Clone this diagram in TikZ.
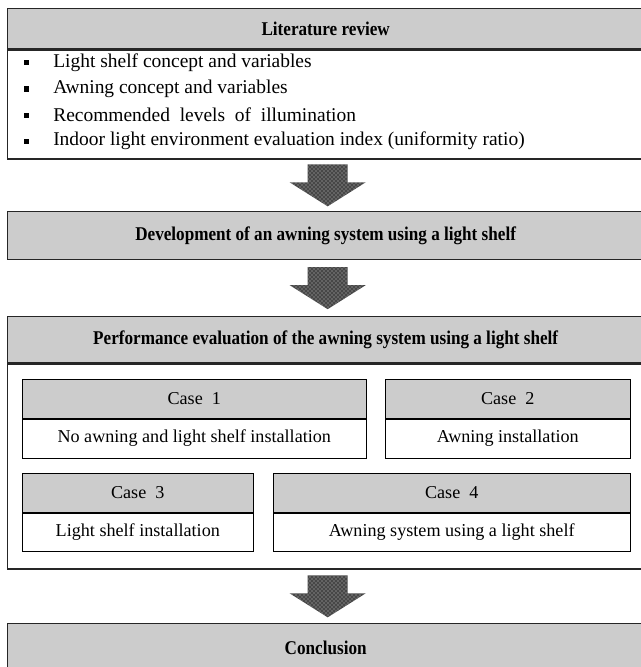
\documentclass[tikz,border=0pt]{standalone}
\usepackage{fontspec}
\setmainfont{Liberation Serif}
\newfontfamily\headfont[FakeStretch=0.88]{Liberation Serif}
\usetikzlibrary{positioning,calc,patterns}
\newlength\px
\setlength\px{0.75pt}
% block arrow between two boxes
\newcommand\flowarrow[2]{%
  \path ($(#1.south)!0.5!(#2.north)$) ++(2,0) coordinate (#1-#2);
  \fill[arrowfill] ($(#1-#2)+(-20,-21)$) -- ($(#1-#2)+(20,-21)$) -- ($(#1-#2)+(20,-3)$)
    -- ($(#1-#2)+(38,-3)$) -- ($(#1-#2)+(0,21)$) -- ($(#1-#2)+(-38,-3)$)
    -- ($(#1-#2)+(-20,-3)$) -- cycle;
  \fill[pattern=crosshatch dots, pattern color=gray!45] ($(#1-#2)+(-20,-21)$) -- ($(#1-#2)+(20,-21)$) -- ($(#1-#2)+(20,-3)$)
    -- ($(#1-#2)+(38,-3)$) -- ($(#1-#2)+(0,21)$) -- ($(#1-#2)+(-38,-3)$)
    -- ($(#1-#2)+(-20,-3)$) -- cycle;}
\begin{document}
\begin{tikzpicture}[
    x=\px, y=-\px,
    head/.style={rectangle, draw=black!85, line width=1pt, fill=gray!40, minimum width=636\px, inner sep=0pt, anchor=north west, font=\headfont\bfseries\fontsize{14.6}{16}\selectfont},
    body/.style={rectangle, draw=black!85, line width=1pt, fill=white, minimum width=636\px, inner sep=0pt},
    casehead/.style={rectangle, draw, fill=gray!40, inner sep=0pt, minimum height=39\px, anchor=north west, font=\fontsize{13.6}{15}\selectfont},
    casebody/.style={rectangle, draw, fill=white, inner sep=0pt, minimum height=39\px, font=\fontsize{13.6}{15}\selectfont},
    item/.style={anchor=west, inner sep=0pt, font=\fontsize{14.6}{16}\selectfont},
    bullet/.style={rectangle, fill=black, inner sep=0pt, minimum size=5\px},
    arrowfill/.style={fill=black!72}
]
    \useasboundingbox (0,0) rectangle (641,667);

    % Literature review
    \node [head, minimum height=40\px] (litHead) at (7,8) {Literature review};
    \node [body, minimum height=109\px, below=0pt of litHead] (lit) {};
    \foreach \y/\txt [count=\i] in {63/Light shelf concept and variables,
        89/Awning concept and variables,
        115/Recommended~ levels~ of~ illumination,
        141/Indoor light environment evaluation index (uniformity ratio)} {
        \node [bullet] (b\i) at (26,\y) {};
        \node [item] (t\i) at (53,\y) {\txt};
    }

    % Development
    \node [head, minimum height=48\px] (dev) at (7,211) {Development of an awning system using a light shelf};

    % Performance evaluation
    \node [head, minimum height=46\px] (perfHead) at (7,316) {Performance evaluation of the awning system using a light shelf};
    \node [body, minimum height=205\px, below=0pt of perfHead] (perf) {};

    % Cases
    \node [casehead, minimum width=344\px] (c1) at (22,379) {Case~~1};
    \node [casebody, minimum width=344\px, below=0pt of c1] (c1b) {No awning and light shelf installation};
    \node [casehead, minimum width=245\px] (c2) at (385,379) {Case~~2};
    \node [casebody, minimum width=245\px, below=0pt of c2] (c2b) {Awning installation};
    \node [casehead, minimum width=231\px] (c3) at (22,473) {Case~~3};
    \node [casebody, minimum width=231\px, minimum height=38\px, below=0pt of c3] (c3b) {Light shelf installation};
    \node [casehead, minimum width=357\px] (c4) at (273,473) {Case~~4};
    \node [casebody, minimum width=357\px, minimum height=38\px, below=0pt of c4] (c4b) {Awning system using a light shelf};

    % Conclusion
    \node [head, minimum height=48\px] (concl) at (7,623) {Conclusion};

    \flowarrow{lit}{dev}
    \flowarrow{dev}{perfHead}
    \flowarrow{perf}{concl}

\end{tikzpicture}
\end{document}
